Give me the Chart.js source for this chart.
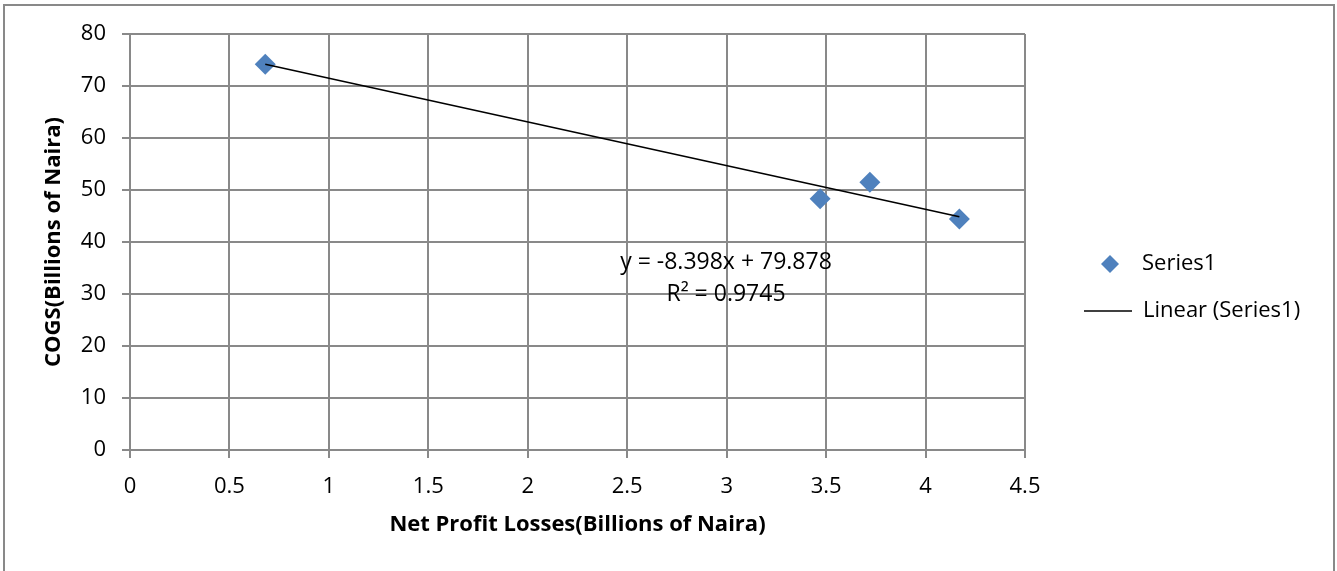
<!DOCTYPE html>
<html>
<head>
<meta charset="utf-8">
<script src="https://cdn.jsdelivr.net/npm/chart.js@4"></script>
<style>
	html, body { margin: 0; padding: 0; background: #fff; }
	#wrap { position: relative; width: 1337px; height: 571px; }
</style>
</head>
<body>
<div id="wrap"><canvas id="chart" width="1337" height="571"></canvas></div>
<script>
// values
const netProfitLosses = [0.68, 3.47, 3.72, 4.17];
const cogs = [74.2, 48.3, 51.5, 44.4];

// trendline as printed on the chart
const trendSlope = -8.398;
const trendIntercept = 79.878;
const trendLabel = "y = -8.398x + 79.878";
const r2Label = "R² = 0.9745";

const xTitle = "Net Profit Losses(Billions of Naira)";
const yTitle = "COGS(Billions of Naira)";
const seriesName = "Series1";
const trendName = "Linear (Series1)";

const blue = "#4F81BD";
const gridCol = "#898989";
const fontFam = "'Open Sans', sans-serif";

const points = netProfitLosses.map((x, i) => ({ x: x, y: cogs[i] }));
const xMin = Math.min(...netProfitLosses);
const xMax = Math.max(...netProfitLosses);
const trend = [xMin, xMax].map(x => ({ x: x, y: trendSlope * x + trendIntercept }));

const extras = {
	id: "extras",
	beforeDraw: (chart) => {
		let ctx = chart.ctx;
		ctx.save();
		ctx.fillStyle = "#fff";
		ctx.fillRect(0, 0, chart.width, chart.height);
		ctx.strokeStyle = gridCol;
		ctx.lineWidth = 2;
		ctx.strokeRect(4, 5, 1330, 620);
		ctx.restore();
	},
	afterDraw: (chart) => {
		let ctx = chart.ctx;
		ctx.save();
		ctx.fillStyle = "#000";
		ctx.font = "23px " + fontFam;
		ctx.textAlign = "center";
		ctx.textBaseline = "middle";
		ctx.fillText(trendLabel, 726, 262);
		ctx.fillText(r2Label, 726, 294);

		// legend
		ctx.fillStyle = blue;
		ctx.beginPath();
		ctx.moveTo(1110, 255);
		ctx.lineTo(1119, 264);
		ctx.lineTo(1110, 273);
		ctx.lineTo(1101, 264);
		ctx.closePath();
		ctx.fill();
		ctx.strokeStyle = "#000";
		ctx.lineWidth = 1.5;
		ctx.beginPath();
		ctx.moveTo(1084, 311);
		ctx.lineTo(1132, 311);
		ctx.stroke();
		ctx.fillStyle = "#000";
		ctx.font = "22px " + fontFam;
		ctx.textAlign = "left";
		ctx.fillText(seriesName, 1142, 264);
		ctx.fillText(trendName, 1143, 311);
		ctx.restore();
	}
};

window.addEventListener("load", () => {
	Chart.defaults.font.family = fontFam;
	Chart.defaults.color = "#000";

	new Chart(document.getElementById("chart"), {
		type: "scatter",
		data: {
			datasets: [{
				label: trendName,
				type: "line",
				data: trend,
				borderColor: "#000",
				borderWidth: 1.5,
				pointRadius: 0,
				fill: false,
				order: 0
			}, {
				label: seriesName,
				data: points,
				pointStyle: "rectRot",
				pointRadius: 10.5,
				pointBackgroundColor: blue,
				pointBorderColor: blue,
				pointBorderWidth: 0,
				order: 1
			}]
		},
		options: {
			responsive: false,
			animation: false,
			layout: { padding: { left: 0, top: 34, right: 312, bottom: 0 } },
			scales: {
				x: {
					type: "linear",
					min: 0,
					max: 4.5,
					afterFit: s => { s.height = 121; },
					ticks: {
						stepSize: 0.5,
						padding: 16,
						font: { size: 22 },
						callback: v => String(+v.toFixed(1))
					},
					grid: { color: gridCol, lineWidth: 2, tickLength: 8 },
					border: { color: gridCol, width: 2 },
					title: {
						display: true,
						text: xTitle,
						font: { size: 22, weight: "bold" },
						padding: { top: 0, bottom: 33 }
					}
				},
				y: {
					type: "linear",
					min: 0,
					max: 80,
					afterFit: s => { s.width = 130; },
					ticks: {
						stepSize: 10,
						padding: 16,
						font: { size: 22 }
					},
					grid: { color: gridCol, lineWidth: 2, tickLength: 8 },
					border: { color: gridCol, width: 2 },
					title: {
						display: true,
						text: yTitle,
						font: { size: 22, weight: "bold" },
						padding: { top: 41, bottom: 0 }
					}
				}
			},
			plugins: {
				legend: { display: false },
				tooltip: { enabled: false }
			}
		},
		plugins: [extras]
	});
});
</script>
</body>
</html>
